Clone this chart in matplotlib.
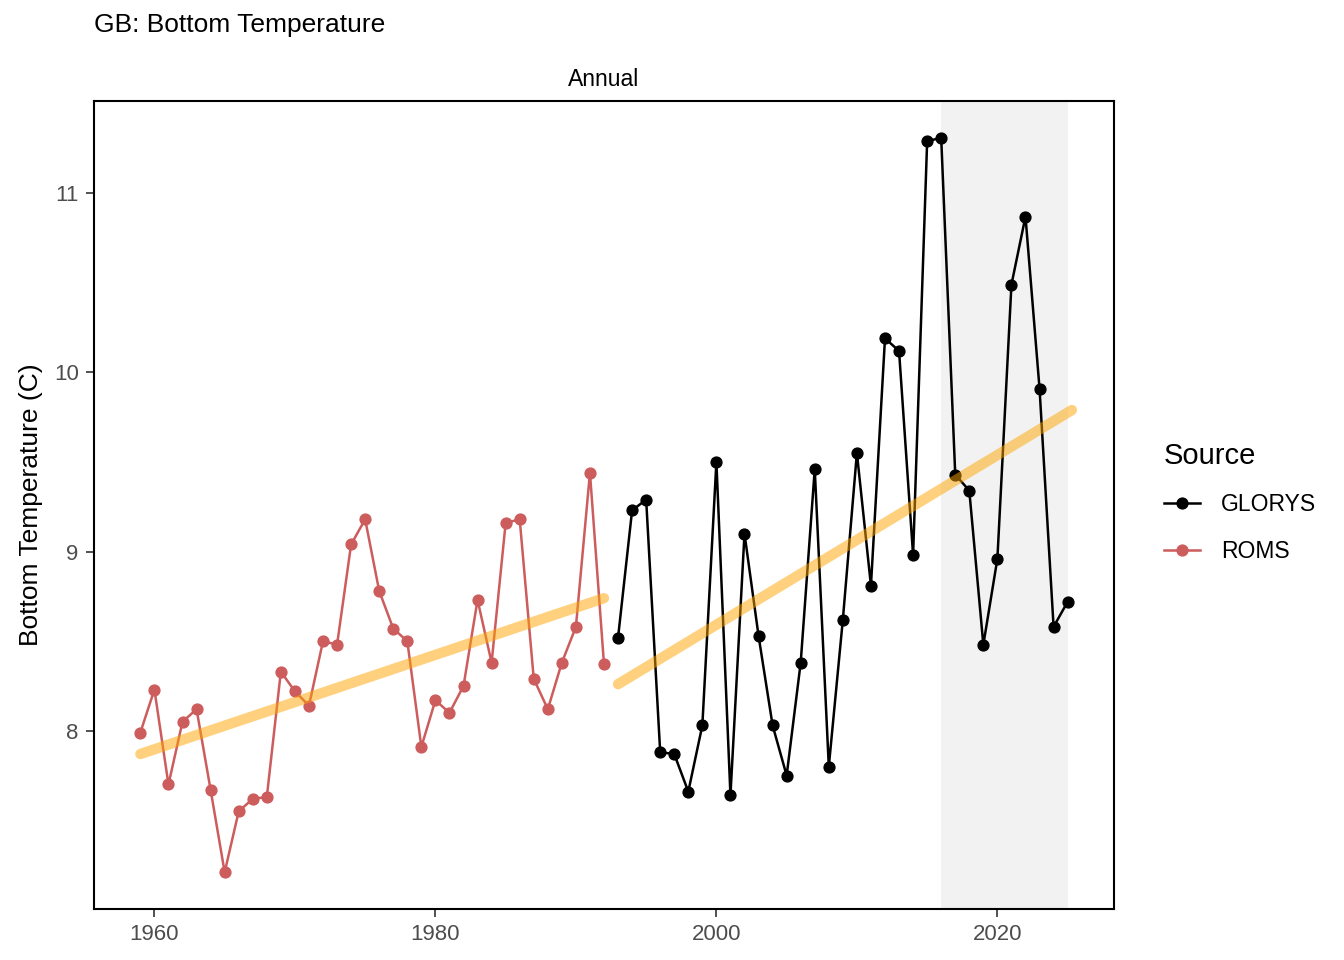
import numpy as np
import matplotlib
matplotlib.use("Agg")
import matplotlib.pyplot as plt
from matplotlib.lines import Line2D

plt.rcParams['font.family'] = ['Liberation Sans', 'DejaVu Sans']

# ROMS hindcast, 1959-1992
roms_years = np.arange(1959, 1993)
roms_temp = [7.99, 8.23, 7.70, 8.05, 8.12, 7.67, 7.21, 7.55, 7.62, 7.63,
             8.33, 8.22, 8.14, 8.50, 8.48, 9.04, 9.18, 8.78, 8.57, 8.50,
             7.91, 8.17, 8.10, 8.25, 8.73, 8.38, 9.16, 9.18, 8.29, 8.12,
             8.38, 8.58, 9.44, 8.37]

# GLORYS reanalysis, 1993-2025
glorys_years = np.arange(1993, 2026)
glorys_temp = [8.52, 9.23, 9.29, 7.88, 7.87, 7.66, 8.03, 9.50, 7.64, 9.10,
               8.53, 8.03, 7.75, 8.38, 9.46, 7.80, 8.62, 9.55, 8.81, 10.19,
               10.12, 8.98, 11.29, 11.31, 9.43, 9.34, 8.48, 8.96, 10.49, 10.87,
               9.91, 8.58, 8.72]

# trend line ends
roms_trend_x = [1959, 1992]
roms_trend_y = [7.87, 8.74]
glorys_trend_x = [1993, 2025.3]
glorys_trend_y = [8.26, 9.79]

# recent period highlight
shade_start, shade_end = 2016, 2025

fig = plt.figure(figsize=(13.44, 9.6), dpi=100)
ax = fig.add_axes([94/1344, 1 - 909/960, (1114 - 94)/1344, (909 - 101)/960])

ax.axvspan(shade_start, shade_end, color='#f2f2f2', lw=0, zorder=0)

ax.plot(roms_trend_x, roms_trend_y, color='#ffa500', alpha=0.5, lw=7.5,
        solid_capstyle='round', zorder=3)
ax.plot(glorys_trend_x, glorys_trend_y, color='#ffa500', alpha=0.5, lw=7.5,
        solid_capstyle='round', zorder=3)

ax.plot(roms_years, roms_temp, color='#cd5c5c', lw=1.8, marker='o', ms=7.8, zorder=2)
ax.plot(glorys_years, glorys_temp, color='black', lw=1.8, marker='o', ms=7.8, zorder=2)

ax.set_xlim(1955.7, 2028.3)
ax.set_ylim(7.005, 11.515)
ax.set_xticks([1960, 1980, 2000, 2020])
ax.set_yticks([8, 9, 10, 11])
ax.tick_params(labelsize=16, labelcolor='#4d4d4d', length=6, width=1.2,
               color='#333333', pad=5)
for s in ax.spines.values():
    s.set_linewidth(1.5)
    s.set_color('black')

ax.set_ylabel('Bottom Temperature (C)', fontsize=19, labelpad=8)
ax.set_title('Annual', fontsize=16.5, pad=11)
fig.text(94/1344, 1 - 25/960, 'GB: Bottom Temperature', fontsize=19, va='center', ha='left')

handles = [Line2D([], [], color='black', lw=1.8, marker='o', ms=7.8),
           Line2D([], [], color='#cd5c5c', lw=1.8, marker='o', ms=7.8)]
leg = fig.legend(handles, ['GLORYS', 'ROMS'], title='Source', loc='upper left',
                 bbox_to_anchor=(1143/1344, 1 - 421/960), frameon=False,
                 fontsize=16.5, title_fontsize=21, handlelength=1.6,
                 labelspacing=1.05, handletextpad=0.9)
leg._legend_box.align = 'left'
leg._legend_box.sep = 17

fig.savefig('out.png', dpi=100)
